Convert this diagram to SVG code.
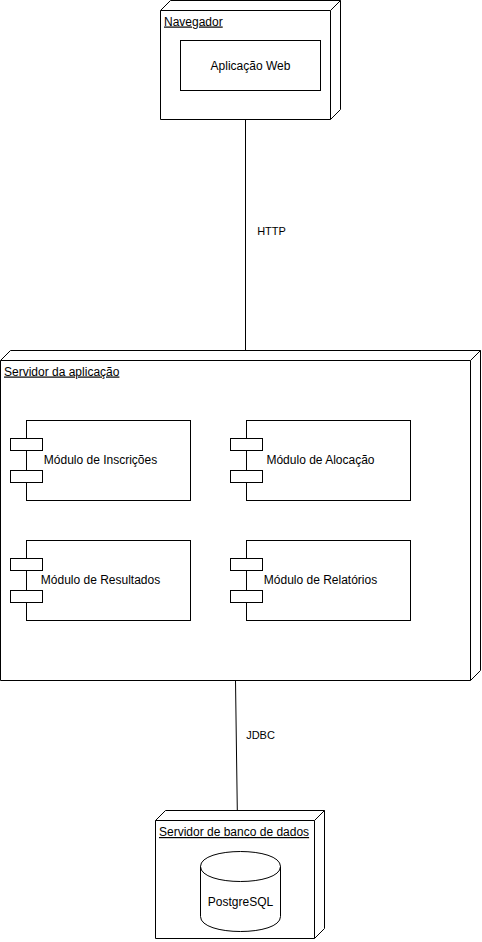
<svg xmlns="http://www.w3.org/2000/svg" width="482" height="942" viewBox="0 0 482 942">
<style>
.sh{fill:#ffffff;stroke:#000000;stroke-width:1}
.ln{fill:none;stroke:#000000;stroke-width:1}
.t{font-family:"Liberation Sans",Arial,sans-serif;font-size:12px;fill:#000000}
.c{text-anchor:middle}
.u{text-decoration:underline}
.s{font-size:11px}
</style>
<rect width="482" height="942" fill="#ffffff"/>
<g id="connectors">
<line class="ln" x1="245.5" y1="119.5" x2="245.5" y2="350.5"/>
<text class="t s c" x="271.5" y="235">HTTP</text>
<line class="ln" x1="235.5" y1="680.5" x2="237.3" y2="810.5"/>
<text class="t s c" x="260.5" y="738.5">JDBC</text>
</g>
<g id="navegador">
<path class="sh" d="M160.5 10.5 L170.5 0.5 L340.5 0.5 L340.5 109.5 L330.5 119.5 L160.5 119.5 Z"/>
<path class="ln" d="M160.5 10.5 L330.5 10.5 L340.5 0.5 M330.5 10.5 L330.5 119.5"/>
<text class="t u" x="164" y="25.5">Navegador</text>
</g>
<g id="aplicacao-web">
<rect class="sh" x="180.5" y="40.5" width="140" height="50"/>
<text class="t c" x="250.5" y="69.5">Aplicação Web</text>
</g>
<g id="servidor-aplicacao">
<path class="sh" d="M0.5 360.5 L10.5 350.5 L480.5 350.5 L480.5 670.5 L470.5 680.5 L0.5 680.5 Z"/>
<path class="ln" d="M0.5 360.5 L470.5 360.5 L480.5 350.5 M470.5 360.5 L470.5 680.5"/>
<text class="t u" x="4" y="375.5">Servidor da aplicação</text>
</g>
<g id="modulo-inscricoes">
<rect class="sh" x="26.5" y="420.5" width="164" height="80"/>
<rect class="sh" x="10.5" y="438.5" width="32" height="12"/>
<rect class="sh" x="10.5" y="470.5" width="32" height="12"/>
<text class="t c" x="100.5" y="464">Módulo de Inscrições</text>
</g>
<g id="modulo-alocacao">
<rect class="sh" x="246.5" y="420.5" width="164" height="80"/>
<rect class="sh" x="230.5" y="438.5" width="32" height="12"/>
<rect class="sh" x="230.5" y="470.5" width="32" height="12"/>
<text class="t c" x="320.5" y="464">Módulo de Alocação</text>
</g>
<g id="modulo-resultados">
<rect class="sh" x="26.5" y="540.5" width="164" height="80"/>
<rect class="sh" x="10.5" y="558.5" width="32" height="12"/>
<rect class="sh" x="10.5" y="590.5" width="32" height="12"/>
<text class="t c" x="100.5" y="584">Módulo de Resultados</text>
</g>
<g id="modulo-relatorios">
<rect class="sh" x="246.5" y="540.5" width="164" height="80"/>
<rect class="sh" x="230.5" y="558.5" width="32" height="12"/>
<rect class="sh" x="230.5" y="590.5" width="32" height="12"/>
<text class="t c" x="320.5" y="584">Módulo de Relatórios</text>
</g>
<g id="servidor-banco">
<path class="sh" d="M155.5 820.5 L165.5 810.5 L324.5 810.5 L324.5 928.5 L314.5 938.5 L155.5 938.5 Z"/>
<path class="ln" d="M155.5 820.5 L314.5 820.5 L324.5 810.5 M314.5 820.5 L314.5 938.5"/>
<text class="t u" x="159" y="836">Servidor de banco de dados</text>
</g>
<g id="postgresql">
<path class="sh" d="M200.5 866.5 C200.5 846.5 280.5 846.5 280.5 866.5 L280.5 916.5 C280.5 936.5 200.5 936.5 200.5 916.5 Z"/>
<path class="ln" d="M200.5 866.5 C200.5 886.5 280.5 886.5 280.5 866.5"/>
<text class="t c" x="240.5" y="906">PostgreSQL</text>
</g>
</svg>
